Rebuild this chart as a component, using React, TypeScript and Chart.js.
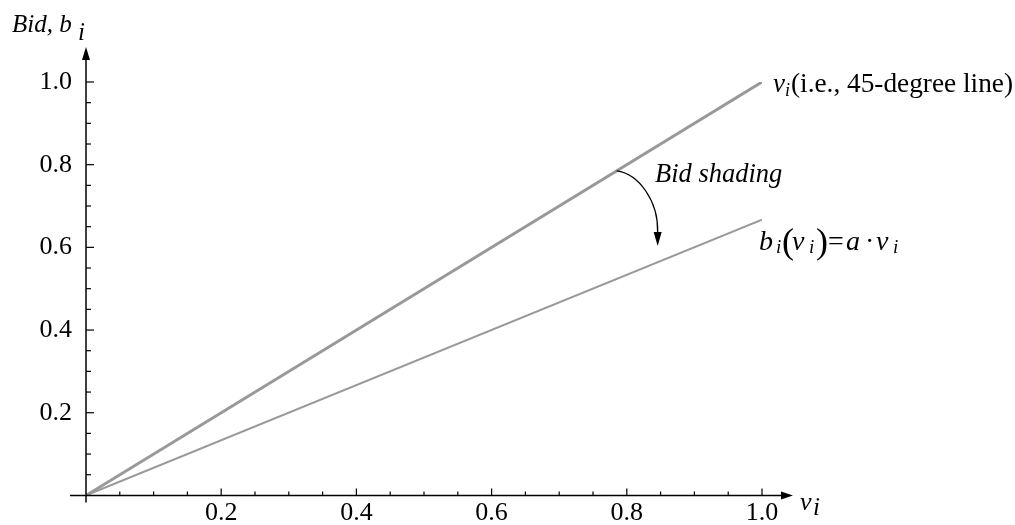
import React, { useEffect, useRef } from "react";
import { Chart, registerables } from "chart.js";

Chart.register(...registerables);

// ---- data ----
const valuationPoints = [0, 1];
const fortyFiveLine = [0, 1];
const shadingFactor = 0.667;
const bidLine = valuationPoints.map((v) => v * shadingFactor);
const xTickValues = [0, 0.2, 0.4, 0.6, 0.8, 1.0];
const xTickLabels = ["", "0.2", "0.4", "0.6", "0.8", "1.0"];
const yTickValues = [0, 0.2, 0.4, 0.6, 0.8, 1.0];
const yTickLabels = ["", "0.2", "0.4", "0.6", "0.8", "1.0"];
const minorStep = 0.05;
const arrowStartX = 0.785; // where the "Bid shading" arc leaves the 45-degree line

const SERIF = "'Liberation Serif', 'Times New Roman', serif";

type Part = { t: string; font: string; dy?: number; dx?: number };

function drawRich(ctx: CanvasRenderingContext2D, parts: Part[], x: number, y: number) {
  let cx = x;
  ctx.textBaseline = "alphabetic";
  ctx.textAlign = "left";
  for (const p of parts) {
    ctx.font = p.font;
    cx += p.dx || 0;
    ctx.fillText(p.t, cx, y + (p.dy || 0));
    cx += ctx.measureText(p.t).width;
  }
}

const axesPlugin = {
  id: "mathAxes",
  afterDatasetsDraw(chart: any) {
    const ctx: CanvasRenderingContext2D = chart.ctx;
    const xs = chart.scales.x;
    const ys = chart.scales.y;
    const x0 = xs.getPixelForValue(0);
    const y0 = ys.getPixelForValue(0);
    const x1 = xs.getPixelForValue(1);
    const y1 = ys.getPixelForValue(1);
    ctx.save();
    ctx.strokeStyle = "#000";
    ctx.fillStyle = "#000";
    ctx.lineWidth = 1.5;
    // x axis
    ctx.beginPath();
    ctx.moveTo(x0 - 16, y0);
    ctx.lineTo(x1 + 22, y0);
    ctx.stroke();
    ctx.beginPath();
    ctx.moveTo(x1 + 31, y0);
    ctx.lineTo(x1 + 19, y0 - 4);
    ctx.lineTo(x1 + 19, y0 + 4);
    ctx.closePath();
    ctx.fill();
    // y axis
    ctx.beginPath();
    ctx.moveTo(x0, y0 + 7);
    ctx.lineTo(x0, y1 - 24);
    ctx.stroke();
    ctx.beginPath();
    ctx.moveTo(x0, y1 - 35);
    ctx.lineTo(x0 - 4, y1 - 22);
    ctx.lineTo(x0 + 4, y1 - 22);
    ctx.closePath();
    ctx.fill();
    // ticks
    ctx.lineWidth = 1.2;
    for (let i = 1; i <= 20; i++) {
      const v = i * minorStep;
      const major = i % 4 === 0;
      const px = xs.getPixelForValue(v);
      ctx.beginPath();
      ctx.moveTo(px, y0);
      ctx.lineTo(px, y0 - (major ? 7 : 4));
      ctx.stroke();
      const py = ys.getPixelForValue(v);
      ctx.beginPath();
      ctx.moveTo(x0, py);
      ctx.lineTo(x0 + (major ? 8 : 5), py);
      ctx.stroke();
    }
    // axis titles
    const it24 = `italic 25px ${SERIF}`;
    drawRich(ctx, [{ t: "Bid, b", font: it24 }], 12, 32);
    drawRich(ctx, [{ t: "i", font: it24 }], 78, 40);
    drawRich(ctx, [{ t: "v", font: `italic 26px ${SERIF}` }], 800, 510);
    drawRich(ctx, [{ t: "i", font: `italic 25px ${SERIF}` }], 813, 515);

    // 45-degree label
    drawRich(ctx, [
      { t: "v", font: `italic 27px ${SERIF}` },
      { t: "i", font: `italic 18px ${SERIF}`, dy: 4 },
      { t: "(i.e., 45-degree line)", font: `27.3px ${SERIF}`, dx: 1 },
    ], x1 + 11, y1 + 10);

    // Bid shading label
    drawRich(ctx, [{ t: "Bid shading", font: `italic 26.5px ${SERIF}` }], 655, 182);

    // curved arrow
    const sx = xs.getPixelForValue(arrowStartX);
    const sy = ys.getPixelForValue(arrowStartX);
    ctx.lineWidth = 1.3;
    ctx.beginPath();
    ctx.moveTo(sx, sy);
    ctx.bezierCurveTo(sx + 22, sy + 3, sx + 42, sy + 30, sx + 41, sy + 62);
    ctx.stroke();
    ctx.beginPath();
    ctx.moveTo(sx + 41, sy + 75);
    ctx.lineTo(sx + 37, sy + 61);
    ctx.lineTo(sx + 45, sy + 61);
    ctx.closePath();
    ctx.fill();

    // bid function label
    const it = `italic 28px ${SERIF}`;
    const sub = `italic 19px ${SERIF}`;
    const par = `36px ${SERIF}`;
    const base = 250;
    drawRich(ctx, [{ t: "b", font: it }], 759, base);
    drawRich(ctx, [{ t: "i", font: sub }], 776, base + 3);
    drawRich(ctx, [{ t: "(", font: par }], 782, base + 3);
    drawRich(ctx, [{ t: "v", font: it }], 792, base);
    drawRich(ctx, [{ t: "i", font: sub }], 809, base + 3);
    drawRich(ctx, [{ t: ")", font: par }], 816, base + 3);
    drawRich(ctx, [{ t: "=", font: `28px ${SERIF}` }], 828, base);
    drawRich(ctx, [{ t: "a", font: it }], 846, base);
    drawRich(ctx, [{ t: "·", font: `28px ${SERIF}` }], 865, base);
    drawRich(ctx, [{ t: "v", font: it }], 876, base);
    drawRich(ctx, [{ t: "i", font: sub }], 893, base + 3);
    ctx.restore();
  },
};

export default function App() {
  const ref = useRef<HTMLCanvasElement | null>(null);
  useEffect(() => {
    if (!ref.current) return;
    const chart = new Chart(ref.current, {
      type: "scatter",
      data: {
        datasets: [
          {
            data: valuationPoints.map((v, i) => ({ x: v, y: fortyFiveLine[i] })),
            showLine: true,
            borderColor: "#999999",
            borderWidth: 3,
            pointRadius: 0,
          },
          {
            data: valuationPoints.map((v, i) => ({ x: v, y: bidLine[i] })),
            showLine: true,
            borderColor: "#999999",
            borderWidth: 2,
            pointRadius: 0,
          },
        ],
      },
      options: {
        animation: false,
        responsive: false,
        devicePixelRatio: 1,
        layout: { padding: { left: 0, top: 82, right: 253, bottom: 0 } },
        plugins: { legend: { display: false }, tooltip: { enabled: false } },
        scales: {
          x: {
            type: "linear",
            min: 0,
            max: 1,
            grid: { display: false, drawTicks: false },
            border: { display: false },
            afterBuildTicks: (s: any) => {
              s.ticks = xTickValues.map((v) => ({ value: v }));
            },
            afterFit: (s: any) => {
              s.height = 29;
            },
            ticks: {
              padding: 2,
              color: "#000",
              font: { family: SERIF, size: 26 },
              maxRotation: 0,
              autoSkip: false,
              callback: (_v: any, i: number) => xTickLabels[i],
            },
          },
          y: {
            type: "linear",
            min: 0,
            max: 1,
            grid: { display: false, drawTicks: false },
            border: { display: false },
            afterBuildTicks: (s: any) => {
              s.ticks = yTickValues.map((v) => ({ value: v }));
            },
            afterFit: (s: any) => {
              s.width = 86;
            },
            ticks: {
              padding: 14,
              color: "#000",
              font: { family: SERIF, size: 26 },
              autoSkip: false,
              callback: (_v: any, i: number) => yTickLabels[i],
            },
          },
        },
      },
      plugins: [axesPlugin],
    });
    return () => chart.destroy();
  }, []);
  return (
    <div style={{ position: "fixed", left: 0, top: 0, width: 1015, height: 525, background: "#fff" }}>
      <canvas ref={ref} width={1015} height={525} />
    </div>
  );
}
